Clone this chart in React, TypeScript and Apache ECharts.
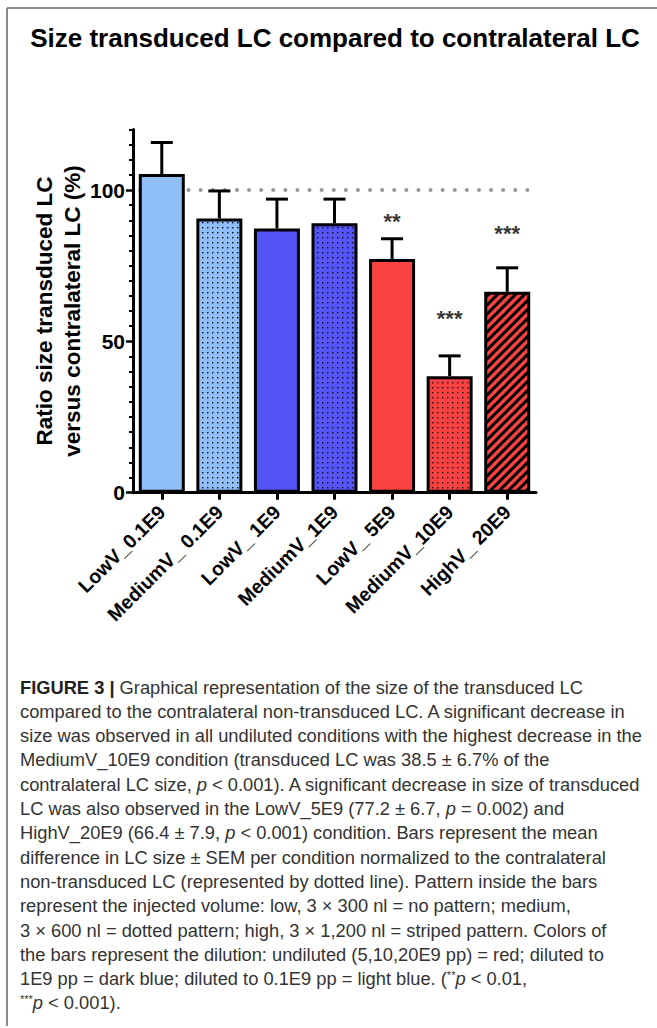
import React, { useEffect, useRef } from 'react';
import * as echarts from 'echarts';

const categories = ['LowV_0.1E9', 'MediumV_ 0.1E9', 'LowV_ 1E9', 'MediumV_1E9', 'LowV_ 5E9', 'MediumV_10E9', 'HighV_ 20E9'];
const means = [105.3, 90.6, 87.3, 89.0, 77.2, 38.5, 66.4];
const sems = [10.4, 9.1, 9.7, 8.0, 6.7, 6.7, 7.9];
const dilution = ['light', 'light', 'dark', 'dark', 'red', 'red', 'red'];
const volume = ['low', 'medium', 'low', 'medium', 'low', 'medium', 'high'];
const sigIndex = [4, 5, 6];
const sigLabels = ['**', '***', '***'];
const sigLevels = [89.6, 57.4, 85.5];
const referenceValue = 100;
const majorTicks = [0, 50, 100];
const minorTicks = [5, 10, 15, 20, 25, 30, 35, 40, 45, 55, 60, 65, 70, 75, 80, 85, 90, 95, 105, 110, 115, 120];
const titleText = 'Size transduced LC compared to contralateral LC';
const yNameLines = ['Ratio size transduced LC', 'versus contralateral LC (%)'];
const captionLines = [
  '{b|FIGURE 3 |} Graphical representation of the size of the transduced LC',
  'compared to the contralateral non-transduced LC. A significant decrease in',
  'size was observed in all undiluted conditions with the highest decrease in the',
  'MediumV_10E9 condition (transduced LC was 38.5 ± 6.7% of the',
  'contralateral LC size, {i|p} < 0.001). A significant decrease in size of transduced',
  'LC was also observed in the LowV_5E9 (77.2 ± 6.7, {i|p} = 0.002) and',
  'HighV_20E9 (66.4 ± 7.9, {i|p} < 0.001) condition. Bars represent the mean',
  'difference in LC size ± SEM per condition normalized to the contralateral',
  'non-transduced LC (represented by dotted line). Pattern inside the bars',
  'represent the injected volume: low, 3 × 300 nl = no pattern; medium,',
  '3 × 600 nl = dotted pattern; high, 3 × 1,200 nl = striped pattern. Colors of',
  'the bars represent the dilution: undiluted (5,10,20E9 pp) = red; diluted to',
  '1E9 pp = dark blue; diluted to 0.1E9 pp = light blue. ({s|**}{i|p} < 0.01,',
  '{s|***}{i|p} < 0.001).',
];

const COLORS: Record<string, string> = { light: '#90BEF9', dark: '#5555F7', red: '#F84242' };
const FONT = '"Liberation Sans", Arial, Helvetica, sans-serif';
const CAP = 18.3;

function dotPattern(bg: string) {
  const c = document.createElement('canvas');
  c.width = 5;
  c.height = 5;
  const ctx = c.getContext('2d')!;
  ctx.fillStyle = bg;
  ctx.fillRect(0, 0, 5, 5);
  ctx.fillStyle = '#111';
  ctx.fillRect(2, 2, 1.4, 1.4);
  return c;
}

function stripePattern(bg: string) {
  const s = 9;
  const c = document.createElement('canvas');
  c.width = s;
  c.height = s;
  const ctx = c.getContext('2d')!;
  ctx.fillStyle = bg;
  ctx.fillRect(0, 0, s, s);
  ctx.strokeStyle = '#000';
  ctx.lineWidth = 3;
  ctx.beginPath();
  ctx.moveTo(-2, s + 2);
  ctx.lineTo(s + 2, -2);
  ctx.moveTo(-2, 2);
  ctx.lineTo(2, -2);
  ctx.moveTo(s - 2, s + 2);
  ctx.lineTo(s + 2, s - 2);
  ctx.stroke();
  return c;
}

function fillFor(i: number): any {
  const bg = COLORS[dilution[i]];
  if (volume[i] === 'medium') return { image: dotPattern(bg), repeat: 'repeat' };
  if (volume[i] === 'high') return { image: stripePattern(bg), repeat: 'repeat' };
  return bg;
}

export default function App() {
  const ref = useRef<HTMLDivElement>(null);
  useEffect(() => {
    if (!ref.current) return;
    const chart = echarts.init(ref.current, undefined, { renderer: 'svg' });
    const gridLeft = 133;
    const gridTop = 129.5;
    const gridRight = 121;
    const gridBottom = 1028 - 492.7;

    const graphics: any[] = [
      { type: 'line', shape: { x1: 7, y1: 8, x2: 657, y2: 8 }, style: { stroke: '#666', lineWidth: 1.5 } },
      { type: 'line', shape: { x1: 7, y1: 8, x2: 7, y2: 1026 }, style: { stroke: '#666', lineWidth: 1.5 } },
      {
        type: 'text', x: 335, y: 38,
        style: { text: titleText, font: `bold 26px ${FONT}`, fill: '#000', align: 'center', verticalAlign: 'middle' },
      },
      {
        type: 'text', x: 58, y: 311, rotation: Math.PI / 2,
        style: { text: yNameLines.join('\n'), font: `bold 22.5px ${FONT}`, lineHeight: 28, fill: '#000', align: 'center', verticalAlign: 'middle' },
      },
    ];
    captionLines.forEach((line, k) => {
      graphics.push({
        type: 'text', x: 20, y: 687 + 24.3 * k,
        style: {
          text: line, fontFamily: FONT, fontSize: CAP, fill: '#333', align: 'left', verticalAlign: 'middle',
          rich: {
            b: { fontFamily: FONT, fontSize: CAP, fontWeight: 'bold', fill: '#222' },
            i: { fontFamily: FONT, fontSize: CAP, fontStyle: 'italic', fill: '#333' },
            s: { fontFamily: FONT, fontSize: 11, fill: '#333', verticalAlign: 'top' },
          },
        },
      });
    });

    chart.setOption({
      animation: false,
      grid: { left: gridLeft, top: gridTop, right: gridRight, bottom: gridBottom, containLabel: false },
      xAxis: {
        type: 'category',
        data: categories,
        axisLine: { lineStyle: { color: '#000', width: 3 } },
        axisTick: { show: true, alignWithLabel: true, length: 7, lineStyle: { color: '#000', width: 3 } },
        axisLabel: { interval: 0, rotate: 45, margin: 16, color: '#000', fontSize: 19.5, fontWeight: 'bold', fontFamily: FONT },
        splitLine: { show: false },
      },
      yAxis: [
        {
          type: 'value', min: 0, max: 120,
          axisLine: { show: true, lineStyle: { color: '#000', width: 3 } },
          axisTick: { show: true, length: 7, lineStyle: { color: '#000', width: 2.5 }, customValues: majorTicks },
          axisLabel: { color: '#000', fontSize: 21, fontWeight: 'bold', fontFamily: FONT, margin: 8, customValues: majorTicks },
          splitLine: { show: false },
        },
        {
          type: 'value', min: 0, max: 120, position: 'left',
          axisLine: { show: false },
          axisTick: { show: true, length: 4, lineStyle: { color: '#000', width: 2 }, customValues: minorTicks },
          axisLabel: { show: false },
          splitLine: { show: false },
        },
      ],
      graphic: graphics,
      series: [
        {
          type: 'bar',
          data: means.map((v, i) => ({ value: v, itemStyle: { color: fillFor(i) } })),
          barWidth: 46,
          itemStyle: { borderColor: '#000', borderWidth: 3 },
          z: 3,
          markLine: {
            silent: true,
            symbol: 'none',
            label: { show: false },
            lineStyle: { color: '#999', width: 4, type: [0.1, 12], cap: 'round', dashOffset: 5 },
            data: [{ yAxis: referenceValue }],
            z: 1,
          },
        },
        {
          type: 'custom',
          z: 4,
          data: means.map((m, i) => [i, m, sems[i]]),
          encode: { x: 0, y: 1 },
          renderItem: (params: any, api: any) => {
            const i = api.value(0);
            const m = api.value(1);
            const e = api.value(2);
            const base = api.coord([i, m]);
            const top = api.coord([i, m + e]);
            const half = 11;
            return {
              type: 'group',
              children: [
                { type: 'line', shape: { x1: top[0], y1: base[1], x2: top[0], y2: top[1] }, style: { stroke: '#000', lineWidth: 3 } },
                { type: 'line', shape: { x1: top[0] - half, y1: top[1], x2: top[0] + half, y2: top[1] }, style: { stroke: '#000', lineWidth: 3 } },
              ],
            };
          },
        },
        {
          type: 'scatter',
          symbolSize: 0,
          z: 5,
          data: sigIndex.map((ci, k) => ({ value: [ci, sigLevels[k]], label: { formatter: sigLabels[k] } })),
          label: { show: true, position: 'inside', color: '#000', fontSize: 22, fontWeight: 'bold', fontFamily: FONT },
        },
      ],
    });
    return () => chart.dispose();
  }, []);
  return <div ref={ref} style={{ position: 'absolute', left: 0, top: 0, width: 657, height: 1028 }} />;
}
